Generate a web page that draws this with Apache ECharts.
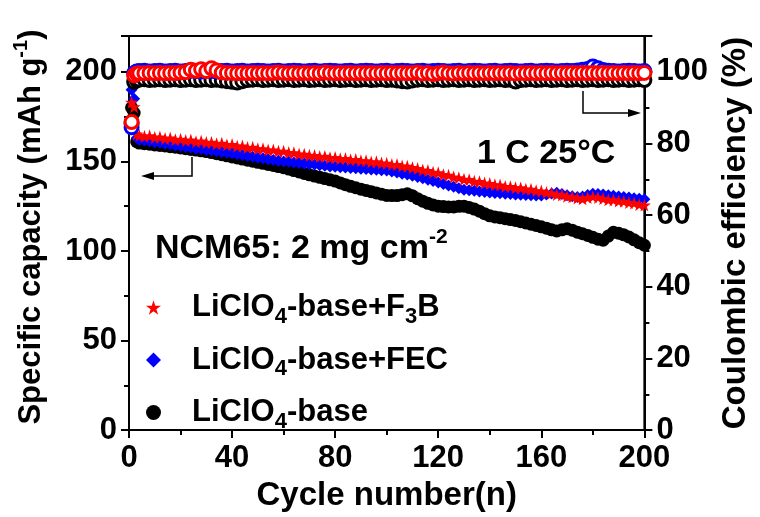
<!DOCTYPE html>
<html>
<head>
<meta charset="utf-8">
<script src="https://cdn.jsdelivr.net/npm/echarts@6/dist/echarts.min.js"></script>
<style>html,body{margin:0;padding:0;background:#fff}#c{width:760px;height:517px}</style>
</head>
<body>
<div id="c"></div>
<script>
const cycles = [1,2,3,4,6,8,10,12,14,16,18,20,22,24,26,28,30,32,34,36,38,40,42,44,46,48,50,52,54,56,58,60,62,64,66,68,70,72,74,76,78,80,82,84,86,88,90,92,94,96,98,100,102,104,106,108,110,112,114,116,118,120,122,124,126,128,130,132,134,136,138,140,142,144,146,148,150,152,154,156,158,160,162,164,166,168,170,172,174,176,178,180,182,184,186,188,190,192,194,196,198,200];

const capF3B = [183,180.5,165.2,164.6,164.0,164.3,163.4,163.6,162.8,163.0,162.1,162.4,161.6,161.9,161.0,161.3,160.5,160.6,159.8,160.1,159.2,159.4,158.5,158.6,157.7,157.9,157.0,157.1,156.3,156.4,155.6,155.7,154.9,154.8,154.1,154.0,153.4,153.3,152.7,152.8,152.1,152.2,151.5,151.6,150.9,151.0,150.4,150.4,149.7,149.8,149.1,149.0,148.3,148.2,147.4,147.3,146.5,146.0,145.2,144.9,143.9,143.6,142.6,142.3,141.3,140.9,140.0,139.8,138.9,138.7,137.9,137.6,136.9,136.8,136.0,135.9,135.3,135.2,134.5,134.4,133.6,133.5,132.6,132.4,131.5,131.3,130.5,130.2,129.5,129.1,129.8,130.3,129.9,129.3,128.6,128.5,127.9,127.7,127.0,126.8,125.9,125.6];

const capFEC = [190,185,163,162.0,161.6,161.2,160.6,160.4,159.9,159.6,158.9,158.6,158.0,157.8,157.1,156.9,156.4,156.1,155.6,155.3,154.8,154.5,154.0,153.6,153.0,152.6,152.0,151.7,151.2,150.8,150.4,150.0,149.8,149.4,149.1,148.8,148.4,148.2,147.8,147.6,147.2,147.0,146.8,146.6,146.3,146.2,145.9,145.8,145.5,145.4,145.1,144.9,144.3,143.8,143.1,142.7,142.0,141.3,140.6,139.8,139.1,138.2,137.4,136.6,135.8,135.0,134.2,133.9,133.6,133.2,132.9,132.6,132.4,132.2,131.9,131.8,131.5,131.4,131.2,131.1,131.0,131.0,131.5,132.1,132.5,131.8,131.1,130.6,130.1,130.4,131.2,132.0,131.8,131.5,131.1,130.8,130.4,130.1,129.8,129.4,129.2,128.8];

const capBase = [180,177,161,160.2,159.9,159.6,159.2,158.9,158.6,158.2,157.9,157.5,157.1,156.7,156.3,155.9,155.5,154.9,154.3,153.7,153.1,152.5,151.9,151.3,150.7,150.1,149.5,148.9,148.3,147.7,147.1,146.5,145.7,144.9,144.1,143.3,142.5,141.8,141.1,140.4,139.7,139.0,138.0,137.0,136.1,135.3,134.5,133.8,133.1,132.4,131.7,131.0,130.9,130.9,131.4,131.9,130.8,129.2,127.8,126.6,125.7,125.0,124.8,124.6,124.6,124.9,125.0,124.3,123.4,122.2,120.8,119.6,119.0,118.6,118.0,117.5,117.0,116.3,115.6,114.9,114.2,113.5,112.7,111.8,111.2,111.8,112.4,111.6,110.5,109.6,108.7,107.6,106.6,106.0,108.3,110.4,109.9,109.0,107.8,106.2,104.6,103.2];

const ceF3B = [86.0,99.0,99.5,99.6,99.6,99.7,99.6,99.7,99.6,99.7,99.6,99.8,99.9,100.6,100.3,100.7,100.2,101.0,100.4,99.8,99.7,99.7,99.6,99.7,99.6,99.7,99.6,99.7,99.6,99.7,99.8,99.7,99.6,99.7,99.6,99.7,99.6,99.7,99.6,99.8,99.7,99.6,99.7,99.6,99.7,99.6,99.7,99.6,99.7,99.6,99.7,99.6,99.7,99.6,99.7,99.6,99.7,99.8,99.5,99.7,99.4,99.6,99.8,99.6,99.5,99.7,99.6,99.7,99.6,99.7,99.6,99.7,99.6,99.7,99.6,99.7,99.5,99.7,99.6,99.7,99.6,99.7,99.6,99.7,99.6,99.7,99.6,99.7,99.6,99.7,99.6,99.7,99.6,99.7,99.6,99.7,99.6,99.7,99.6,99.7,99.6,99.7];

const ceFEC = [84.5,99.6,100.1,100.2,100.3,100.1,100.2,100.3,100.1,100.2,100.3,100.1,100.2,100.3,100.2,100.1,100.3,100.2,100.1,100.2,100.3,100.1,100.2,100.3,100.1,100.2,100.3,100.2,100.1,100.2,100.3,100.1,100.2,100.3,100.2,100.1,100.2,100.3,100.1,100.2,100.3,100.2,100.1,100.2,100.3,100.1,100.2,100.3,100.2,100.1,100.2,100.3,100.1,100.2,100.3,100.2,100.1,100.2,100.3,100.1,100.2,100.3,100.2,100.1,100.2,100.3,100.1,100.2,100.3,100.2,100.1,100.2,100.3,100.1,100.2,100.3,100.2,100.1,100.2,100.3,100.1,100.2,100.3,100.2,100.1,100.2,100.3,100.2,100.4,100.6,100.8,101.5,101.0,100.5,100.3,100.2,100.1,100.2,100.3,100.2,100.1,100.2];

const ceBase = [85.5,97.2,97.7,97.8,97.9,97.7,97.8,97.9,97.7,97.8,97.9,97.7,97.8,97.9,97.7,97.8,97.9,97.7,97.8,97.6,97.4,97.2,97.0,97.4,97.7,97.8,97.9,97.7,97.8,97.9,97.7,97.8,97.9,97.7,97.8,97.9,97.7,97.8,97.9,97.7,97.8,97.9,97.7,97.8,97.9,97.7,97.8,97.9,97.7,97.8,97.9,97.7,97.8,97.6,97.4,97.3,97.6,97.8,97.9,97.7,97.8,97.9,97.7,97.8,97.9,97.7,97.8,97.9,97.7,97.8,97.9,97.7,97.8,97.9,97.7,97.8,97.3,97.7,97.8,97.9,97.7,97.8,97.9,97.7,97.8,97.9,97.7,97.8,97.9,97.7,97.8,97.9,97.7,97.8,97.9,97.7,97.8,97.9,97.7,97.8,97.9,97.7];

const xTicks = {min: 0, max: 200, interval: 40};
const yCapTicks = {min: 0, max: 220, interval: 50};
const yCETicks = {min: 0, max: 110, interval: 20};

const names = {
  f3b: 'LiClO4-base+F3B',
  fec: 'LiClO4-base+FEC',
  base: 'LiClO4-base'
};
const legendRich = {
  'LiClO4-base+F3B': '{g|}{a|LiClO}{s|4}{a|-base+F}{s|3}{a|B}',
  'LiClO4-base+FEC': '{g|}{a|LiClO}{s|4}{a|-base+FEC}',
  'LiClO4-base': '{g|}{a|LiClO}{s|4}{a|-base}'
};

const FONT = '"Liberation Sans", Arial, sans-serif';
const STAR = 'path://M50,0 L61.2,34.5 L97.6,34.5 L68.2,55.9 L79.4,90.5 L50,69.1 L20.6,90.5 L31.8,55.9 L2.4,34.5 L38.8,34.5 Z';

function pairs(ys) { return cycles.map((c, i) => [c, ys[i]]); }

const richMain = {fontSize: 31, fontWeight: 'bold', fontFamily: FONT, color: '#000', lineHeight: 40};
const richSub = {fontSize: 22, fontWeight: 'bold', fontFamily: FONT, color: '#000', lineHeight: 22, verticalAlign: 'bottom'};
const richSup = {fontSize: 20, fontWeight: 'bold', fontFamily: FONT, color: '#000', lineHeight: 20, verticalAlign: 'top'};
const richBig = {fontSize: 34, fontWeight: 'bold', fontFamily: FONT, color: '#000', lineHeight: 44};
const richBigSup = {fontSize: 21, fontWeight: 'bold', fontFamily: FONT, color: '#000', lineHeight: 21, verticalAlign: 'top'};

const chart = echarts.init(document.getElementById('c'), null, {renderer: 'canvas'});
const axisLbl = {color: '#000', fontSize: 31, fontWeight: 'bold', fontFamily: FONT, showMaxLabel: false};
const tickStyle = {color: '#000', width: 2};

chart.setOption({
  animation: false,
  backgroundColor: '#fff',
  grid: {left: 129, right: 112, top: 36, bottom: 84, show: true, borderColor: '#000', borderWidth: 2},
  xAxis: {
    type: 'value', min: xTicks.min, max: xTicks.max, interval: xTicks.interval,
    axisLine: {show: true, lineStyle: tickStyle},
    axisTick: {show: true, length: 8, lineStyle: tickStyle},
    minorTick: {show: true, splitNumber: 2, length: 5, lineStyle: tickStyle},
    splitLine: {show: false},
    axisLabel: Object.assign({}, axisLbl, {margin: 13, showMaxLabel: true}),
    name: 'Cycle number(n)', nameLocation: 'middle', nameGap: 46,
    nameTextStyle: {color: '#000', fontSize: 33, fontWeight: 'bold', fontFamily: FONT}
  },
  yAxis: [{
    type: 'value', position: 'left', min: yCapTicks.min, max: yCapTicks.max, interval: yCapTicks.interval,
    axisLine: {show: true, lineStyle: tickStyle},
    axisTick: {show: true, length: 8, lineStyle: tickStyle},
    minorTick: {show: true, splitNumber: 2, length: 5, lineStyle: tickStyle},
    splitLine: {show: false},
    axisLabel: Object.assign({margin: 12}, axisLbl),
    name: '{a|Specific capacity (mAh g}{sup|-1}{a|)}', nameLocation: 'middle', nameGap: 78, nameRotate: 90,
    nameTextStyle: {color: '#000', fontSize: 31, fontWeight: 'bold', fontFamily: FONT, padding: [0, 0, 0, 12], rich: {a: richMain, sup: richSup}}
  }, {
    type: 'value', position: 'right', min: yCETicks.min, max: yCETicks.max, interval: yCETicks.interval,
    axisLine: {show: true, lineStyle: tickStyle},
    axisTick: {show: true, length: 8, lineStyle: tickStyle},
    minorTick: {show: true, splitNumber: 2, length: 5, lineStyle: tickStyle},
    splitLine: {show: false},
    axisLabel: Object.assign({margin: 12}, axisLbl),
    name: 'Coulombic efficiency (%)', nameLocation: 'middle', nameGap: 70, nameRotate: 90,
    nameTextStyle: {color: '#000', fontSize: 33, fontWeight: 'bold', fontFamily: FONT}
  }],
  legend: {
    orient: 'vertical', left: 146, top: 292, padding: 0, itemGap: 17,
    itemWidth: 15, itemHeight: 15,
    data: [names.f3b, names.fec, names.base],
    formatter: n => legendRich[n],
    textStyle: {rich: {g: {width: 26}, a: richMain, s: richSub}}
  },
  series: [
    {name: names.base, type: 'scatter', yAxisIndex: 0, symbol: 'circle', symbolSize: 13,
     itemStyle: {color: '#000', opacity: 1}, data: pairs(capBase)},
    {name: names.fec, type: 'scatter', yAxisIndex: 0, symbol: 'diamond', symbolSize: 12,
     itemStyle: {color: '#0000ff', opacity: 1}, data: pairs(capFEC)},
    {name: names.f3b, type: 'scatter', yAxisIndex: 0, symbol: STAR, symbolSize: 13,
     itemStyle: {color: '#ff0000', opacity: 1}, data: pairs(capF3B)},
    {name: 'CE base', type: 'scatter', yAxisIndex: 1, symbol: 'circle', symbolSize: 13,
     itemStyle: {color: '#fff', borderColor: '#000', borderWidth: 3, opacity: 1}, data: pairs(ceBase)},
    {name: 'CE FEC', type: 'scatter', yAxisIndex: 1, symbol: 'circle', symbolSize: 13,
     itemStyle: {color: '#fff', borderColor: '#0000ff', borderWidth: 3, opacity: 1}, data: pairs(ceFEC)},
    {name: 'CE F3B', type: 'scatter', yAxisIndex: 1, symbol: 'circle', symbolSize: 13,
     itemStyle: {color: '#fff', borderColor: '#ff0000', borderWidth: 3, opacity: 1}, data: pairs(ceF3B)}
  ],
  graphic: [
    {type: 'text', left: 477, top: 137, style: {text: '1 C 25°C', fill: '#000', font: 'bold 34px ' + FONT}},
    {type: 'text', x: 155, y: 227, style: {text: '{a|NCM65: 2 mg cm}{sup|-2}', rich: {a: richBig, sup: richBigSup}}},
    {type: 'polyline', shape: {points: [[192, 157], [192, 176], [150, 176]]}, style: {stroke: '#000', lineWidth: 1.5, fill: null}},
    {type: 'polygon', shape: {points: [[141, 176], [154, 172], [154, 180]]}, style: {fill: '#000'}},
    {type: 'polyline', shape: {points: [[583, 91], [583, 113], [632, 113]]}, style: {stroke: '#000', lineWidth: 1.5, fill: null}},
    {type: 'polygon', shape: {points: [[641, 113], [628, 109], [628, 117]]}, style: {fill: '#000'}}
  ]
});
</script>
</body>
</html>
